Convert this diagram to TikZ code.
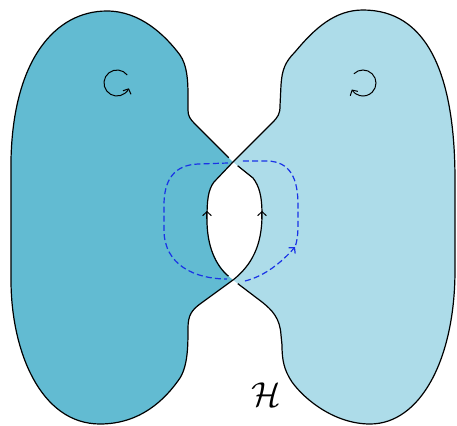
\documentclass[tikz,border=0pt]{standalone}
\definecolor{leftblue}{RGB}{98,187,210}
\definecolor{rightblue}{RGB}{173,220,233}
\definecolor{loopblue}{RGB}{25,50,230}
\usepackage{amsmath}
\usepackage{xcolor}
\usetikzlibrary{arrows.meta}

%% outer boundary of the left sheet, from U round to L
\newcommand{\leftouter}{(U) -- (195,124) .. controls (190,119) and (188,116) .. (188,110) -- (188,95) .. controls (188,80) and (187,65) .. (180,55) .. controls (165,35) and (140,11) .. (107,11) .. controls (55,11) and (13,60) .. (11,160) -- (11,280) .. controls (11,350) and (40,424) .. (100,424) .. controls (140,424) and (165,400) .. (180,378) .. controls (188,365) and (188,345) .. (188,328) .. controls (188,315) and (192,310) .. (200,304) -- (L)}
%% outer boundary of the right sheet, from L round to U
\newcommand{\rightouter}{(L) -- (262,302) .. controls (272,310) and (280,318) .. (281,335) -- (282,345) .. controls (282,360) and (284,370) .. (292,382) .. controls (305,400) and (335,424) .. (370,424) .. controls (420,424) and (455,360) .. (455,270) -- (455,180) .. controls (455,70) and (425,10) .. (363,10) .. controls (335,10) and (315,28) .. (295,52) .. controls (285,62) and (282,70) .. (281,85) -- (280,106) .. controls (280,114) and (278,117) .. (272,123) -- (U)}

\begin{document}
\begin{tikzpicture}[x=0.5pt, y=-0.5pt,
  >={Straight Barb[length=2pt, width=4.4pt]},
  outline/.style={line width=0.6pt},
  bluedash/.style={loopblue, dashed, dash pattern=on 3pt off 1.6pt, line width=0.6pt}]
  \useasboundingbox (0,0) rectangle (457,425);
  \coordinate (U) at (233,162);
  \coordinate (L) at (233,280);
  %% Sheets
  \fill[leftblue] \leftouter .. controls (215,265) and (207,245) .. (207,220) .. controls (207,200) and (208,190) .. (214,182) -- cycle;
  \fill[rightblue] \rightouter -- (253,178) .. controls (259,186) and (262,195) .. (262,215) .. controls (262,245) and (252,265) .. (L) -- cycle;
  %% Dashed loop
  \draw[bluedash] (228,163) -- (198,164) .. controls (174,165) and (164,180) .. (164,205) -- (164,230) .. controls (164,265) and (195,279) .. (227,279);
  \draw[bluedash] (243,161) -- (268,161) .. controls (290,162) and (298,178) .. (298,205) -- (298,225) .. controls (298,235) and (297,242) .. (295,247);
  \draw[bluedash, ->] (245,281) .. controls (265,276) and (282,262) .. (295,247);
  %% Boundary strands (broken where they pass under)
  \draw[outline, shorten <=3pt, shorten >=3pt] \leftouter .. controls (252,265) and (262,245) .. (262,215) .. controls (262,195) and (259,186) .. (253,178) -- (U);
  \draw[outline, shorten <=3pt, shorten >=3pt] \rightouter -- (214,182) .. controls (208,190) and (207,200) .. (207,220) .. controls (207,245) and (215,265) .. (L);
  \draw[->, line width=0.5pt] (207,219) -- (207,211);
  \draw[->, line width=0.5pt] (262,219) -- (262,211);
  %% Orientations
  \coordinate (spinL) at (117,83);
  \coordinate (spinR) at (363,83);
  \draw[->, line width=0.5pt] ([shift={(38:6.5pt)}]spinL) arc[start angle=38, end angle=336, radius=6.5pt];
  \draw[->, line width=0.5pt] ([shift={(135:6.5pt)}]spinR) arc[start angle=135, end angle=-150, radius=6.5pt];
  \node (hname) at (266,395) {\LARGE $\mathcal{H}$};
\end{tikzpicture}
\end{document}
